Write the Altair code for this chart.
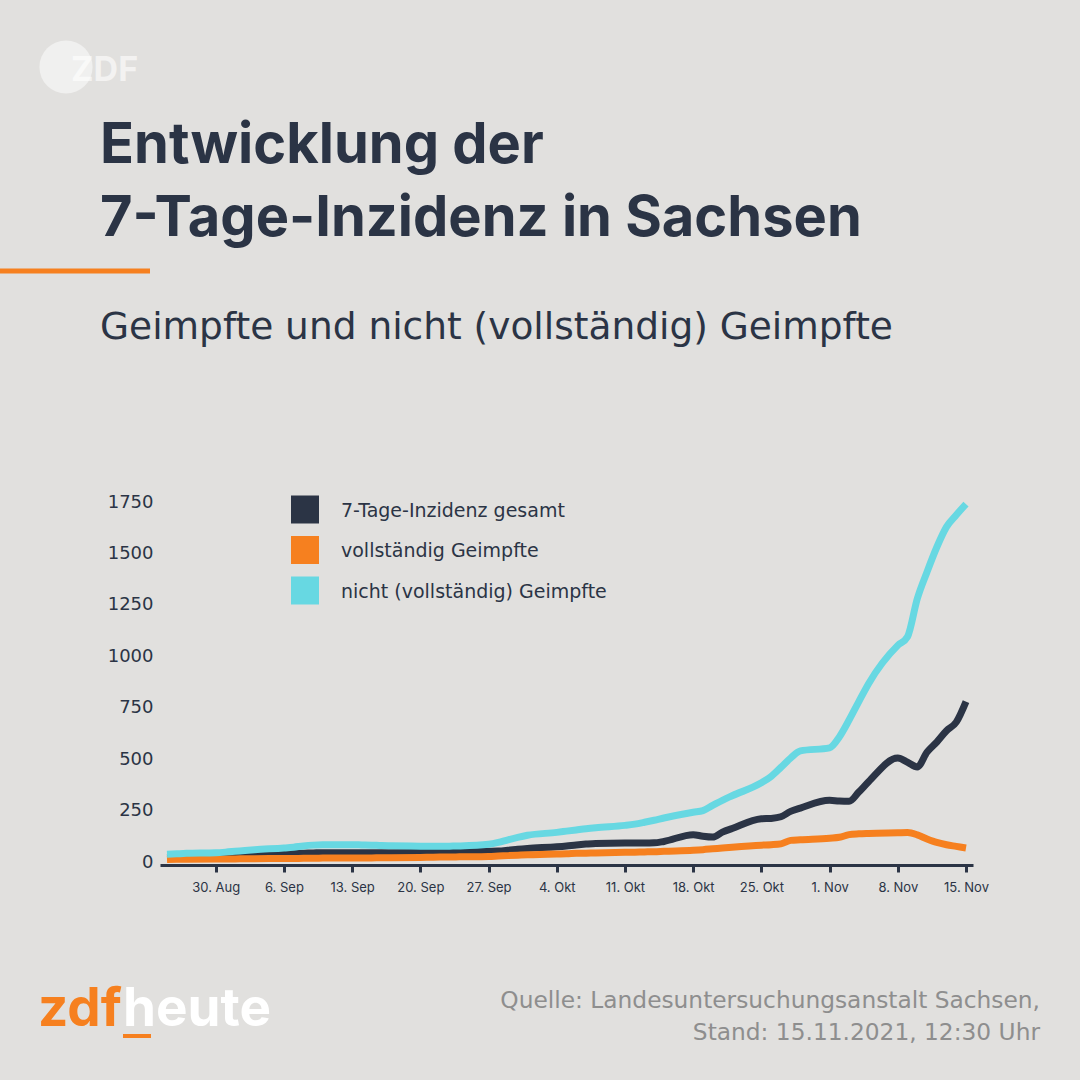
import altair as alt
import pandas as pd

# ---- data -----------------------------------------------------------------
dates = [
    "2021-08-25", "2021-08-26", "2021-08-27", "2021-08-30", "2021-08-31",
    "2021-09-01", "2021-09-02", "2021-09-03", "2021-09-06", "2021-09-07",
    "2021-09-08", "2021-09-09", "2021-09-10", "2021-09-13", "2021-09-14",
    "2021-09-15", "2021-09-16", "2021-09-17", "2021-09-20", "2021-09-21",
    "2021-09-22", "2021-09-23", "2021-09-24", "2021-09-27", "2021-09-28",
    "2021-09-29", "2021-09-30", "2021-10-01", "2021-10-04", "2021-10-05",
    "2021-10-06", "2021-10-07", "2021-10-08", "2021-10-11", "2021-10-12",
    "2021-10-13", "2021-10-14", "2021-10-15", "2021-10-18", "2021-10-19",
    "2021-10-20", "2021-10-21", "2021-10-22", "2021-10-25", "2021-10-26",
    "2021-10-27", "2021-10-28", "2021-10-29", "2021-11-01", "2021-11-02",
    "2021-11-03", "2021-11-04", "2021-11-05", "2021-11-08", "2021-11-09",
    "2021-11-10", "2021-11-11", "2021-11-12", "2021-11-13", "2021-11-14",
    "2021-11-15",
]

gesamt = [
    22, 23, 24, 26, 28,
    30, 32, 35, 40, 42, 43, 44, 45, 45, 45, 45, 45, 45, 46, 47, 48, 49, 50,
    52, 53, 57, 62,
    66, 74, 78, 83, 87, 90, 92, 92, 92, 93, 100, 133, 125, 121, 145, 163,
    210, 212, 220, 246, 262,
    300, 296, 295, 340, 390, 505, 485, 462, 534, 583, 638, 680, 780,
]

geimpft = [
    12, 13, 13, 14, 15,
    15, 16, 16, 17, 17, 18, 18, 19, 20, 20, 20, 21, 21, 22, 23, 24, 24, 25,
    27, 29, 31, 33,
    35, 39, 40, 42, 43, 44, 47, 48, 49, 50, 52, 57, 60, 64, 68, 72,
    82, 84, 88, 105, 108,
    116, 120, 133, 137, 139, 142, 143, 132, 112, 95, 84, 76, 68,
]

ungeimpft = [
    38, 40, 42, 45, 48,
    52, 56, 60, 68, 72, 78, 82, 84, 84, 83, 82, 80, 79, 77, 76, 76, 77, 78,
    86, 95, 108, 120,
    130, 144, 150, 156, 162, 167, 178, 184, 193, 203, 214, 242, 250, 275,
    300, 322,
    385, 416, 460, 505, 540,
    555, 608, 690, 780, 867, 1053, 1095, 1280, 1410, 1530, 1629, 1687, 1740,
]

series_names = [
    "7-Tage-Inzidenz gesamt",
    "vollständig Geimpfte",
    "nicht (vollständig) Geimpfte",
]
series_colors = ["#2b3445", "#f6801f", "#67d8e2"]

y_ticks = [0, 250, 500, 750, 1000, 1250, 1500, 1750]
x_ticks = [
    "2021-08-30", "2021-09-06", "2021-09-13", "2021-09-20", "2021-09-27",
    "2021-10-04", "2021-10-11", "2021-10-18", "2021-10-25", "2021-11-01",
    "2021-11-08", "2021-11-15",
]
month_names = ["Jan", "Feb", "Mär", "Apr", "Mai", "Jun",
               "Jul", "Aug", "Sep", "Okt", "Nov", "Dez"]

title_lines = ["Entwicklung der", "7-Tage-Inzidenz in Sachsen"]
subtitle = "Geimpfte und nicht (vollständig) Geimpfte"
source_lines = ["Quelle: Landesuntersuchungsanstalt Sachsen,",
                "Stand: 15.11.2021, 12:30 Uhr"]

# ---- styling ----------------------------------------------------------------
BG = "#e1e0de"
NAVY = "#2b3445"
ORANGE = "#f6801f"
GREY = "#8e8e8e"
FONT = "Inter"
FONT_WIDE = "DejaVu Sans"

W, H = 813, 360            # plot area
PAD_L, PAD_T = 160, 502    # plot origin on the 1080x1080 canvas

# long table; draw order: gesamt, geimpft, ungeimpft
rows = []
for name, vals in zip(series_names, [gesamt, geimpft, ungeimpft]):
    for d, v in zip(dates, vals):
        rows.append({"datum": d + "T00:00:00", "serie": name, "wert": v})
df = pd.DataFrame(rows)

color_scale = alt.Scale(domain=series_names, range=series_colors)

month_expr = "[" + ",".join(f"'{m}'" for m in month_names) + "]"
x_vals = [alt.DateTime(year=int(s[:4]), month=int(s[5:7]), date=int(s[8:]))
          for s in x_ticks]

lines = alt.Chart(df).mark_line(
    strokeWidth=7, interpolate="monotone", strokeCap="butt", strokeJoin="round"
).encode(
    x=alt.X(
        "datum:T",
        scale=alt.Scale(padding=7, nice=False),
        axis=alt.Axis(
            values=x_vals,
            labelExpr=f"date(datum.value) + '. ' + {month_expr}[month(datum.value)]",
            title=None, grid=False, offset=3,
            domainColor=NAVY, domainWidth=3,
            tickColor=NAVY, tickWidth=3, tickSize=7,
            labelFont=FONT, labelFontSize=13, labelColor=NAVY,
            labelPadding=9, labelFlush=False,
        ),
    ),
    y=alt.Y(
        "wert:Q",
        scale=alt.Scale(domain=[0, 1750], nice=False),
        axis=alt.Axis(
            values=y_ticks, format="d", title=None, grid=False, domain=False,
            ticks=False, tickSize=0, labelPadding=7,
            labelFont=FONT_WIDE, labelFontSize=18, labelColor=NAVY,
        ),
    ),
    color=alt.Color("serie:N", scale=color_scale, legend=None,
                    sort=series_names),
    order=alt.Order("serie_idx:Q"),
).transform_calculate(
    serie_idx=f"indexof({series_names!r}, datum.serie)"
)

# ---- legend (squares + labels) ---------------------------------------------
legend_df = pd.DataFrame({"serie": series_names, "idx": [0, 1, 2]})
legend_y = alt.Y("idx:Q", scale=alt.Scale(domain=[0, 2], range=[7.5, 88.5]),
                 axis=None)
legend_sq = alt.Chart(legend_df).mark_square(size=28 * 28, opacity=1).encode(
    x=alt.value(145), y=legend_y,
    color=alt.Color("serie:N", scale=color_scale, legend=None),
)
legend_txt = alt.Chart(legend_df).mark_text(
    align="left", baseline="middle", font=FONT_WIDE, fontSize=19, color=NAVY,
    dy=1,
).encode(x=alt.value(181), y=legend_y, text="serie:N")


def text_layer(txt, x, y, **kw):
    return alt.Chart(pd.DataFrame({"t": [txt]})).mark_text(**kw).encode(
        x=alt.value(x - PAD_L), y=alt.value(y - PAD_T), text="t:N"
    )


title1 = text_layer(title_lines[0], 100, 163, align="left", baseline="alphabetic",
                    font=FONT, fontSize=56, fontWeight=700, color=NAVY)
title2 = text_layer(title_lines[1], 100, 236, align="left", baseline="alphabetic",
                    font=FONT, fontSize=56, fontWeight=700, color=NAVY)
sub = text_layer(subtitle, 100, 339, align="left", baseline="alphabetic",
                 font=FONT_WIDE, fontSize=37.5, color=NAVY)

accent = alt.Chart(pd.DataFrame({"a": [0]})).mark_rule(
    color=ORANGE, strokeWidth=5
).encode(x=alt.value(0 - PAD_L), x2=alt.value(150 - PAD_L),
         y=alt.value(271 - PAD_T))

# ZDF badge
badge = alt.Chart(pd.DataFrame({"a": [0]})).mark_point(
    filled=True, shape="circle", size=2830, color="#ffffff", opacity=0.5
).encode(x=alt.value(66 - PAD_L), y=alt.value(67 - PAD_T))
badge_txt = text_layer("ZDF", 71, 81, align="left", baseline="alphabetic",
                       font=FONT, fontSize=34, fontWeight=700,
                       color="#ffffff", opacity=0.6)

# footer
brand1 = text_layer("zdf", 38, 1026, align="left", baseline="alphabetic",
                    font=FONT, fontSize=53, fontWeight=700, color=ORANGE)
brand2 = text_layer("heute", 123, 1026, align="left", baseline="alphabetic",
                    font=FONT, fontSize=53, fontWeight=700, color="#ffffff")
brand_bar = alt.Chart(pd.DataFrame({"a": [0]})).mark_rule(
    color=ORANGE, strokeWidth=4
).encode(x=alt.value(123 - PAD_L), x2=alt.value(151 - PAD_L),
         y=alt.value(1036 - PAD_T))
src1 = text_layer(source_lines[0], 1040, 1008, align="right", baseline="alphabetic",
                  font=FONT_WIDE, fontSize=23.3, color=GREY)
src2 = text_layer(source_lines[1], 1040, 1040, align="right", baseline="alphabetic",
                  font=FONT_WIDE, fontSize=23.3, color=GREY)

chart = alt.layer(
    lines, legend_sq, legend_txt, title1, title2, sub, accent,
    badge, badge_txt, brand1, brand2, brand_bar, src1, src2,
).resolve_scale(
    y="independent"
).properties(
    width=W, height=H,
    autosize=alt.AutoSizeParams(type="none"),
    padding={"left": PAD_L, "top": PAD_T,
             "right": 1080 - PAD_L - W, "bottom": 1080 - PAD_T - H},
    background=BG,
).configure_view(stroke=None)

chart.save("out.html", embed_options={"renderer": "svg", "actions": False})
